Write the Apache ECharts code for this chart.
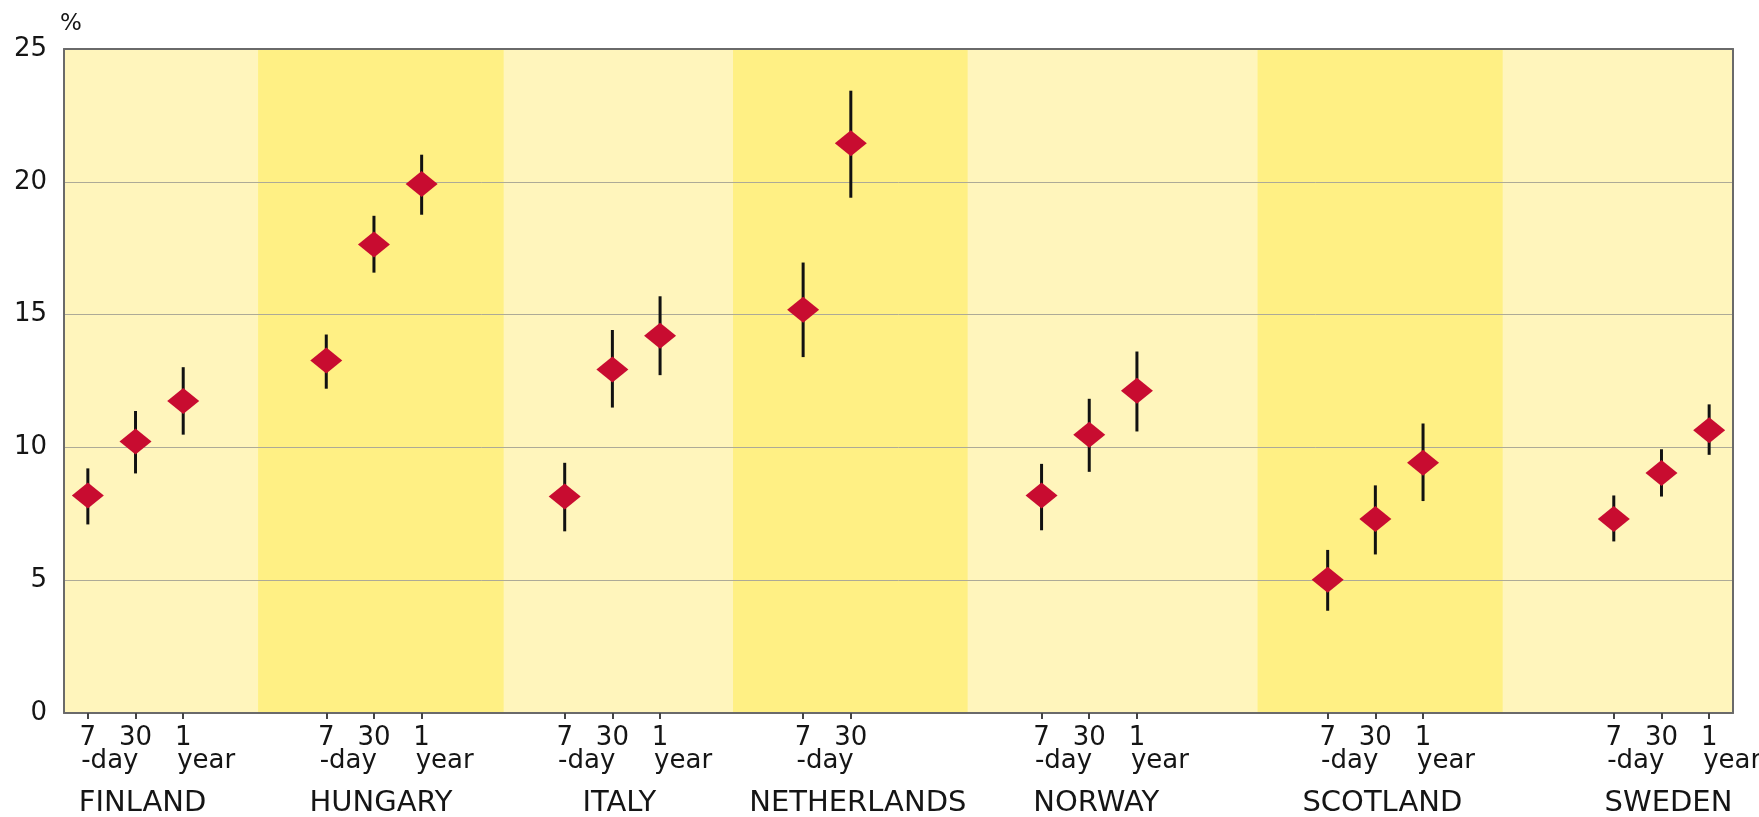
<!DOCTYPE html>
<html>
<head>
<meta charset="utf-8">
<script src="https://cdn.jsdelivr.net/npm/echarts@6/dist/echarts.min.js"></script>
<style>
html,body{margin:0;padding:0;background:#fff;}
#chart{width:1759px;height:817px;}
</style>
</head>
<body>
<div id="chart"></div>
<script>
// Category slots along the x axis ('' = empty spacer slot)
const categories = [
  'FINLAND|7-day','FINLAND|30-day','FINLAND|1 year','','',
  'HUNGARY|7-day','HUNGARY|30-day','HUNGARY|1 year','','',
  'ITALY|7-day','ITALY|30-day','ITALY|1 year','','',
  'NETHERLANDS|7-day','NETHERLANDS|30-day','','','',
  'NORWAY|7-day','NORWAY|30-day','NORWAY|1 year','','','',
  'SCOTLAND|7-day','SCOTLAND|30-day','SCOTLAND|1 year','','','',
  'SWEDEN|7-day','SWEDEN|30-day','SWEDEN|1 year'
];
// Points (in order of non-empty categories)
const pointKeys = categories.filter(c => c !== '');
const estimate = [8.19, 10.22, 11.75, 13.27, 17.64, 19.92, 8.15, 12.93, 14.2, 15.18, 21.45, 8.19, 10.48, 12.13, 5.02, 7.3, 9.42, 7.3, 9.04, 10.65];
const lower    = [7.1, 9.02, 10.48, 12.21, 16.58, 18.76, 6.84, 11.5, 12.72, 13.4, 19.4, 6.88, 9.08, 10.6, 3.85, 5.97, 7.98, 6.46, 8.15, 9.72];
const upper    = [9.21, 11.37, 13.02, 14.25, 18.72, 21.02, 9.42, 14.42, 15.69, 16.96, 23.43, 9.38, 11.83, 13.61, 6.14, 8.57, 10.9, 8.19, 9.93, 11.62];
// Shaded country bands (slot units on a 0..35 scale)
const bandStart = [4.07, 14.03, 25.03];
const bandEnd   = [9.22, 18.95, 30.17];
const yTicks = [0, 5, 10, 15, 20, 25];

const FONT = 'DejaVu Sans';
const TXT = '#151515';

const idx = pointKeys.map(k => categories.indexOf(k));
const scatterData = idx.map((c, i) => [c, estimate[i]]);
const errData = idx.map((c, i) => [c, lower[i], upper[i]]);
const bandData = bandStart.map((s, i) => [s, bandEnd[i]]);

function tickLabel(value, index) {
  const cat = categories[index];
  if (!cat) return '';
  const parts = cat.split('|');
  const country = parts[0], period = parts[1];
  const num = period.split(/[- ]/)[0];
  if (period === '7-day') return '{n|' + num + '}\n{d|-day}';
  if (period === '30-day') return '{n|' + num + '}\n{e| }\n{c|' + country + '}';
  return '{n|' + num + '}\n{y|' + period.split(' ')[1] + '}';
}

const chart = echarts.init(document.getElementById('chart'), null, {renderer: 'canvas'});
chart.setOption({
  animation: false,
  backgroundColor: '#ffffff',
  grid: {left: 64, right: 26, top: 49, bottom: 104, containLabel: false, outerBoundsMode: 'none',
    show: true, backgroundColor: '#FFF5BC', borderWidth: 0},
  xAxis: [{
    type: 'category',
    data: categories,
    boundaryGap: true,
    position: 'bottom',
    z: 5,
    axisLine: {show: true, onZero: false, lineStyle: {color: '#6a6a6a', width: 2}},
    axisTick: {show: true, alignWithLabel: true, length: 6, interval: (i, v) => v !== '', lineStyle: {color: '#444', width: 2}},
    splitLine: {show: false},
    axisLabel: {
      interval: 0, margin: 14, formatter: tickLabel, color: TXT, fontFamily: FONT,
      rich: {
        n: {fontFamily: FONT, fontSize: 26, lineHeight: 23, color: TXT, align: 'center'},
        d: {fontFamily: FONT, fontSize: 26, lineHeight: 23, color: TXT, align: 'center', padding: [0, 0, 0, 44]},
        y: {fontFamily: FONT, fontSize: 26, lineHeight: 23, color: TXT, align: 'center', padding: [0, 0, 0, 46]},
        e: {fontFamily: FONT, fontSize: 26, lineHeight: 23, align: 'center'},
        c: {fontFamily: FONT, fontSize: 29, lineHeight: 61, color: TXT, align: 'center', padding: [0, 0, 0, 14]}
      }
    }
  }, {
    type: 'value', min: 0, max: 35, position: 'top', z: 5,
    axisLine: {show: true, onZero: false, lineStyle: {color: '#6a6a6a', width: 2}},
    axisTick: {show: false}, axisLabel: {show: false}, splitLine: {show: false}
  }],
  yAxis: [{
    type: 'value', min: 0, max: 25, interval: 5, position: 'left', z: 5,
    name: '%', nameLocation: 'end', nameGap: 25,
    nameTextStyle: {fontFamily: FONT, fontSize: 23, color: TXT, align: 'left', verticalAlign: 'middle', padding: [0, 0, 0, -4]},
    axisLine: {show: true, onZero: false, lineStyle: {color: '#6a6a6a', width: 2}},
    axisTick: {show: false},
    splitLine: {show: true, lineStyle: {color: '#ADAA97', width: 1}},
    axisLabel: {margin: 17, fontFamily: FONT, fontSize: 26, color: TXT,
      formatter: v => yTicks.indexOf(v) >= 0 ? String(v) : ''}
  }, {
    type: 'value', min: 0, max: 25, position: 'right', z: 5,
    axisLine: {show: true, onZero: false, lineStyle: {color: '#6a6a6a', width: 2}},
    axisTick: {show: false}, axisLabel: {show: false}, splitLine: {show: false}
  }],
  series: [{
    type: 'custom', name: 'bands', xAxisIndex: 1, yAxisIndex: 0, z: 1, silent: true,
    encode: {x: [0, 1]},
    data: bandData,
    renderItem: function (params, api) {
      const p1 = api.coord([api.value(0), 25]);
      const p2 = api.coord([api.value(1), 0]);
      return {type: 'rect', shape: {x: p1[0], y: p1[1], width: p2[0] - p1[0], height: p2[1] - p1[1]},
        style: {fill: '#FFF084'}};
    }
  }, {
    type: 'custom', name: 'ci', xAxisIndex: 0, yAxisIndex: 0, z: 6, silent: true,
    encode: {x: 0, y: [1, 2]},
    data: errData,
    renderItem: function (params, api) {
      const a = api.coord([api.value(0), api.value(1)]);
      const b = api.coord([api.value(0), api.value(2)]);
      return {type: 'line', shape: {x1: a[0], y1: a[1], x2: b[0], y2: b[1]},
        style: {stroke: '#111', lineWidth: 3}};
    }
  }, {
    type: 'scatter', name: 'estimate', xAxisIndex: 0, yAxisIndex: 0, z: 10,
    symbol: 'diamond', symbolSize: [32, 26],
    itemStyle: {color: '#C80C30', opacity: 1},
    data: scatterData
  }]
});
</script>
</body>
</html>
